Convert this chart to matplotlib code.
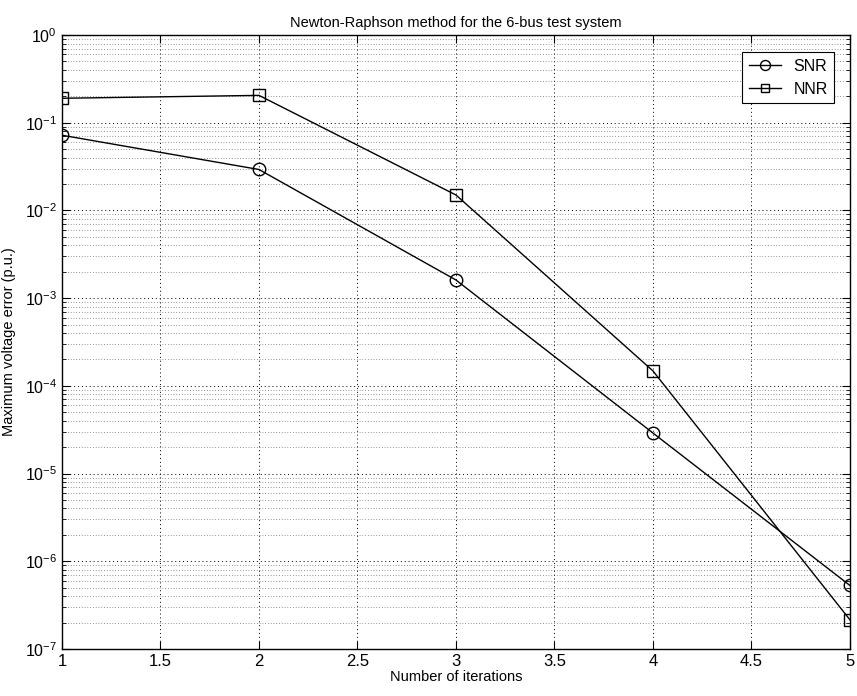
import matplotlib
matplotlib.use("Agg")
import matplotlib.pyplot as plt
from matplotlib.ticker import FixedLocator, NullFormatter

plt.rcParams["font.family"] = ["Liberation Sans", "DejaVu Sans"]

iterations = [1, 2, 3, 4, 5]
snr_error = [0.072, 0.0293, 0.00161, 2.9e-5, 5.3e-7]
nnr_error = [0.19, 0.205, 0.015, 1.48e-4, 2.15e-7]
x_ticks = [1, 1.5, 2, 2.5, 3, 3.5, 4, 4.5, 5]
y_decades = list(range(-7, 1))

fig = plt.figure(figsize=(8.57, 6.96), dpi=100)
ax = fig.add_axes([0.0723, 0.0675, 0.9195, 0.8822])

ax.semilogy(iterations, snr_error, "k-", marker="o", markersize=9,
            markerfacecolor="none", markeredgecolor="k", linewidth=1.0, label="SNR")
ax.semilogy(iterations, nnr_error, "k-", marker="s", markersize=8,
            markerfacecolor="none", markeredgecolor="k", linewidth=1.0, label="NNR")

ax.set_xlim(1, 5)
ax.set_ylim(1e-7, 1e0)
ax.xaxis.set_major_locator(FixedLocator(x_ticks))
ax.set_xticklabels([f"{t:g}" for t in x_ticks])
ax.yaxis.set_major_locator(FixedLocator([10.0 ** d for d in y_decades]))
ax.set_yticklabels([f"$\\mathregular{{10^{{{d}}}}}$" for d in y_decades])
minor = [m * 10.0 ** d for d in y_decades[:-1] for m in range(2, 10)]
ax.yaxis.set_minor_locator(FixedLocator(minor))
ax.yaxis.set_minor_formatter(NullFormatter())

ax.grid(True, which="major", axis="both", color="k", linestyle=(0, (1, 3)), linewidth=0.7)
ax.grid(True, which="minor", axis="y", color="k", linestyle=(0, (1, 3)), linewidth=0.5, alpha=0.8)

ax.tick_params(which="both", direction="in", top=True, right=True, labelsize=12, colors="k")
ax.tick_params(axis="y", labelsize=11.5)
ax.tick_params(which="major", length=6)
ax.tick_params(which="minor", length=3)
for spine in ax.spines.values():
    spine.set_linewidth(1.0)

ax.set_title("Newton-Raphson method for the 6-bus test system", fontsize=10.5)
ax.set_xlabel("Number of iterations", fontsize=10.5, labelpad=1)
ax.set_ylabel("Maximum voltage error (p.u.)", fontsize=10.5)
ax.yaxis.set_label_coords(-0.058, 0.5)

leg = ax.legend(loc="upper right", fontsize=11.5, frameon=True, fancybox=False,
                edgecolor="k", framealpha=1, handlelength=2.0, borderpad=0.4,
                markerscale=0.8, bbox_to_anchor=(0.99, 0.985))
leg.get_frame().set_linewidth(0.8)

fig.savefig("out.png", dpi=100)
